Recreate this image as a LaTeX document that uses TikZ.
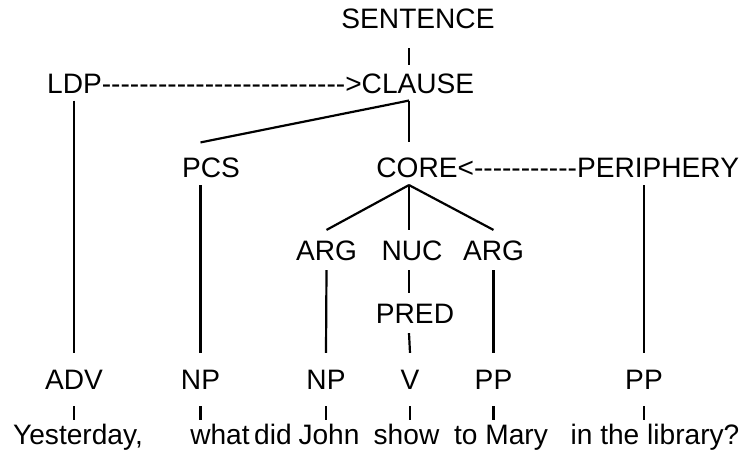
\documentclass[tikz,border=0pt]{standalone}
\usepackage{fontspec}
\setsansfont{Liberation Sans}
\usetikzlibrary{positioning,calc}
\newcommand\dashrun[1]{\foreach \n in {1,...,#1}{-}}

\begin{document}
\begin{tikzpicture}[
  x=1cm,y=1cm,
  font=\sffamily\fontsize{16}{19}\selectfont,
  every node/.style={
    text=black,inner xsep=0pt,inner ysep=0.15cm,outer sep=0pt,
    text height=11.46pt,text depth=0pt
  },
  inner/.style={inner ysep=0.2cm},
  phrase/.style={inner ysep=0.33cm},
  word/.style={inner ysep=0.08cm},
  tie/.style={
    draw=black,
    line width=1.25pt
  }
]
\path[use as bounding box] (0,0) rectangle (15,9.12);

% Spine of the clause
\coordinate (spine) at (8.18,0);

% Sentence and clause level
\node (sentence) at (8.36,8.76) {SENTENCE};

\node (ldp) at (1.49,7.46) {LDP};
\node[right=0pt of ldp] (ldplink) {\dashrun{26}>};
\node[right=0pt of ldplink] (clause) {CLAUSE};

% Core level
\node (pcs) at (4.22,5.77) {PCS};

\node (core) at (8.34,5.77) {CORE};
\node[right=0pt of core] (corelink) {<\dashrun{11}};
\node[right=0pt of corelink] (periphery) {PERIPHERY};

% Arguments and nucleus
\node[inner] (argA) at (6.53,4.12) {ARG};
\node[inner] (nuc) at (8.24,4.12) {NUC};
\node[inner] (argB) at (9.87,4.12) {ARG};

\node[inner] (pred) at (8.30,2.86) {PRED};

% Phrase labels
\foreach \name/\x/\lab in {
  adv/1.48/ADV,
  npA/4.01/NP,
  npB/6.52/NP,
  verb/8.20/V,
  ppA/9.87/PP,
  ppB/12.88/PP}{
  \node[phrase] (\name) at (\x,1.53) {\lab};
}

% Words of the sentence
\foreach \name/\x/\word in {
  yest/1.56/{Yesterday,},
  what/4.40/what,
  did/5.46/did,
  john/6.58/John,
  show/8.13/show,
  mary/10.02/to Mary,
  lib/13.10/in the library?}{
  \node[word] (\name) at (\x,0.43) {\word};
}

% Tree branches
\draw[tie,shorten <=0.25cm]
  (sentence.south -| spine) -- (clause.north -| spine);

\draw[tie] (ldp.south -| adv) -- (adv.north);

\draw[tie,shorten >=0.15cm]
  (clause.south -| spine) -- (core.north -| spine);
\draw[tie] (clause.south -| spine) -- ($(pcs.north -| npA)+(0,0.15)$);

\draw[tie] (pcs.south -| npA) -- (npA.north);
\draw[tie] (periphery.south -| ppB) -- (ppB.north);

\draw[tie] (core.south -| spine) -- (argA.north);
\draw[tie] (core.south -| spine) -- (nuc.north -| spine);
\draw[tie] (core.south -| spine) -- (argB.north);

\draw[tie] (argA.south) -- (npB.north);
\draw[tie] (nuc.south -| spine) -- (pred.north -| spine);
\draw[tie] (pred.south -| spine) -- (verb.north);
\draw[tie] (argB.south) -- (ppA.north);

% Phrases down to words
\foreach \pos/\word in {
  adv/yest,
  npA/what,
  npB/john,
  verb/show,
  ppA/mary,
  ppB/lib}{
  \draw[tie] (\pos.south) -- (\word.north -| \pos);
}

\end{tikzpicture}
\end{document}
